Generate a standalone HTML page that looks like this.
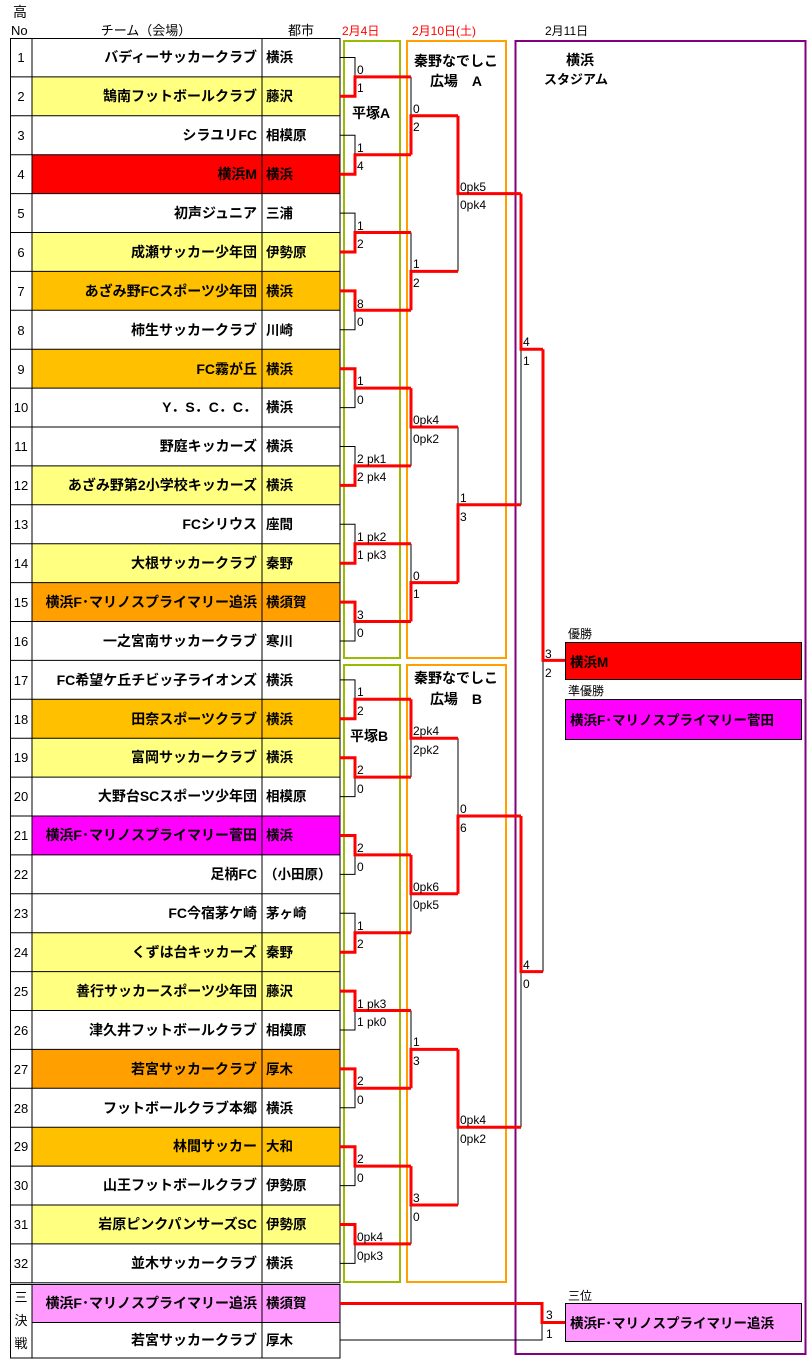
<!DOCTYPE html>
<html><head><meta charset="utf-8"><style>
html,body{margin:0;padding:0;background:#fff;width:810px;height:1366px;overflow:hidden}
svg{display:block;font-family:"Liberation Sans","Noto Sans CJK JP",sans-serif}
.t{font-size:14px;font-weight:bold;text-anchor:end}
.c{font-size:13.5px;font-weight:bold}
.n{font-size:13px;text-anchor:middle}
.s{font-size:12px}
.r{stroke:#f00;stroke-width:3;fill:none}
.b{stroke:#000;stroke-width:1;fill:none}
</style></head><body>
<svg width="810" height="1366" viewBox="0 0 810 1366">
<g>
<rect x="32" y="76.9" width="308" height="38.9" fill="#ffff80"/>
<rect x="32" y="154.7" width="308" height="38.9" fill="#ff0000"/>
<rect x="32" y="232.5" width="308" height="38.9" fill="#ffff80"/>
<rect x="32" y="271.4" width="308" height="38.9" fill="#ffc000"/>
<rect x="32" y="349.2" width="308" height="38.9" fill="#ffc000"/>
<rect x="32" y="465.9" width="308" height="38.9" fill="#ffff80"/>
<rect x="32" y="543.7" width="308" height="38.9" fill="#ffff80"/>
<rect x="32" y="582.6" width="308" height="38.9" fill="#ffa000"/>
<rect x="32" y="699.3" width="308" height="38.9" fill="#ffc000"/>
<rect x="32" y="738.2" width="308" height="38.9" fill="#ffff80"/>
<rect x="32" y="816" width="308" height="38.9" fill="#ff00ff"/>
<rect x="32" y="932.7" width="308" height="38.9" fill="#ffff80"/>
<rect x="32" y="971.6" width="308" height="38.9" fill="#ffff80"/>
<rect x="32" y="1049.4" width="308" height="38.9" fill="#ffa000"/>
<rect x="32" y="1127.2" width="308" height="38.9" fill="#ffc000"/>
<rect x="32" y="1205" width="308" height="38.9" fill="#ffff80"/>
<rect x="32" y="1284.5" width="308" height="38" fill="#ff99ff"/>
</g>
<g stroke="#000" stroke-width="1" fill="none">
<rect x="10.5" y="38.5" width="329.5" height="1244.3"/>
<line x1="32" y1="38" x2="32" y2="1283"/>
<line x1="262" y1="38" x2="262" y2="1283"/>
<path d="M10 76.9H340M10 115.8H340M10 154.7H340M10 193.6H340M10 232.5H340M10 271.4H340M10 310.3H340M10 349.2H340M10 388.1H340M10 427H340M10 465.9H340M10 504.8H340M10 543.7H340M10 582.6H340M10 621.5H340M10 660.4H340M10 699.3H340M10 738.2H340M10 777.1H340M10 816H340M10 854.9H340M10 893.8H340M10 932.7H340M10 971.6H340M10 1010.5H340M10 1049.4H340M10 1088.3H340M10 1127.2H340M10 1166.1H340M10 1205H340M10 1243.9H340"/>
<rect x="10.5" y="1284.5" width="329.5" height="73.5"/>
<line x1="32" y1="1284.5" x2="32" y2="1358"/>
<line x1="262" y1="1284.5" x2="262" y2="1358"/>
<line x1="32" y1="1322.5" x2="340" y2="1322.5"/>
</g>
<text x="13" y="17" font-size="14">高</text>
<text x="11" y="35" font-size="13">No</text>
<text x="146" y="35" font-size="13" text-anchor="middle">チーム（会場）</text>
<text x="301" y="35" font-size="13" text-anchor="middle">都市</text>
<text x="342" y="35" font-size="12" fill="#f00">2月4日</text>
<text x="412" y="35" font-size="12" fill="#f00">2月10日(土)</text>
<text x="545" y="35" font-size="12">2月11日</text>
<g class="n">
<text x="21" y="62">1</text><text x="21" y="101">2</text><text x="21" y="140">3</text><text x="21" y="179">4</text>
<text x="21" y="218">5</text><text x="21" y="257">6</text><text x="21" y="296">7</text><text x="21" y="335">8</text>
<text x="21" y="374">9</text><text x="21" y="412">10</text><text x="21" y="451">11</text><text x="21" y="490">12</text>
<text x="21" y="529">13</text><text x="21" y="568">14</text><text x="21" y="607">15</text><text x="21" y="646">16</text>
<text x="21" y="685">17</text><text x="21" y="724">18</text><text x="21" y="762">19</text><text x="21" y="801">20</text>
<text x="21" y="840">21</text><text x="21" y="879">22</text><text x="21" y="918">23</text><text x="21" y="957">24</text>
<text x="21" y="996">25</text><text x="21" y="1035">26</text><text x="21" y="1074">27</text><text x="21" y="1113">28</text>
<text x="21" y="1151">29</text><text x="21" y="1190">30</text><text x="21" y="1229">31</text><text x="21" y="1268">32</text>
<text x="21" y="1302">三</text><text x="21" y="1325">決</text><text x="21" y="1348">戦</text>
</g>
<g class="t">
<text x="257" y="62">バディーサッカークラブ</text>
<text x="257" y="101">鵠南フットボールクラブ</text>
<text x="257" y="140">シラユリFC</text>
<text x="257" y="179">横浜M</text>
<text x="257" y="218">初声ジュニア</text>
<text x="257" y="257">成瀬サッカー少年団</text>
<text x="257" y="296">あざみ野FCスポーツ少年団</text>
<text x="257" y="335">柿生サッカークラブ</text>
<text x="257" y="374">FC霧が丘</text>
<text x="257" y="412">Y．S．C．C．</text>
<text x="257" y="451">野庭キッカーズ</text>
<text x="257" y="490">あざみ野第2小学校キッカーズ</text>
<text x="257" y="529">FCシリウス</text>
<text x="257" y="568">大根サッカークラブ</text>
<text x="257" y="607">横浜F･マリノスプライマリー追浜</text>
<text x="257" y="646">一之宮南サッカークラブ</text>
<text x="257" y="685">FC希望ケ丘チビッ子ライオンズ</text>
<text x="257" y="724">田奈スポーツクラブ</text>
<text x="257" y="762">富岡サッカークラブ</text>
<text x="257" y="801">大野台SCスポーツ少年団</text>
<text x="257" y="840">横浜F･マリノスプライマリー菅田</text>
<text x="257" y="879">足柄FC</text>
<text x="257" y="918">FC今宿茅ケ崎</text>
<text x="257" y="957">くずは台キッカーズ</text>
<text x="257" y="996">善行サッカースポーツ少年団</text>
<text x="257" y="1035">津久井フットボールクラブ</text>
<text x="257" y="1074">若宮サッカークラブ</text>
<text x="257" y="1113">フットボールクラブ本郷</text>
<text x="257" y="1151">林間サッカー</text>
<text x="257" y="1190">山王フットボールクラブ</text>
<text x="257" y="1229">岩原ピンクパンサーズSC</text>
<text x="257" y="1268">並木サッカークラブ</text>
<text x="257" y="1308">横浜F･マリノスプライマリー追浜</text>
<text x="257" y="1345">若宮サッカークラブ</text>
</g>
<g class="c">
<text x="266" y="62">横浜</text><text x="266" y="101">藤沢</text><text x="266" y="140">相模原</text><text x="266" y="179">横浜</text>
<text x="266" y="218">三浦</text><text x="266" y="257">伊勢原</text><text x="266" y="296">横浜</text><text x="266" y="335">川崎</text>
<text x="266" y="374">横浜</text><text x="266" y="412">横浜</text><text x="266" y="451">横浜</text><text x="266" y="490">横浜</text>
<text x="266" y="529">座間</text><text x="266" y="568">秦野</text><text x="266" y="607">横須賀</text><text x="266" y="646">寒川</text>
<text x="266" y="685">横浜</text><text x="266" y="724">横浜</text><text x="266" y="762">横浜</text><text x="266" y="801">相模原</text>
<text x="266" y="840">横浜</text><text x="264" y="879">（小田原）</text><text x="266" y="918">茅ヶ崎</text><text x="266" y="957">秦野</text>
<text x="266" y="996">藤沢</text><text x="266" y="1035">相模原</text><text x="266" y="1074">厚木</text><text x="266" y="1113">横浜</text>
<text x="266" y="1151">大和</text><text x="266" y="1190">伊勢原</text><text x="266" y="1229">伊勢原</text><text x="266" y="1268">横浜</text>
<text x="266" y="1308">横須賀</text><text x="266" y="1345">厚木</text>
</g>
<g fill="none" stroke-width="2">
<rect x="344" y="41" width="56" height="617" stroke="#99bb00"/>
<rect x="344" y="665" width="56" height="617" stroke="#99bb00"/>
<rect x="407" y="41" width="99" height="617" stroke="#ffa000"/>
<rect x="407" y="665" width="99" height="617" stroke="#ffa000"/>
<rect x="515.5" y="41" width="290" height="1313" stroke="#800080"/>
</g>
<g font-weight="bold" font-size="14">
<text x="352" y="118">平塚A</text>
<text x="350" y="741">平塚B</text>
<text x="456" y="66" text-anchor="middle">秦野なでしこ</text>
<text x="456" y="86" text-anchor="middle">広場　A</text>
<text x="456" y="683" text-anchor="middle">秦野なでしこ</text>
<text x="456" y="704" text-anchor="middle">広場　B</text>
<text x="580" y="65" text-anchor="middle">横浜</text>
<text x="576" y="84" text-anchor="middle" font-size="13">スタジアム</text>
</g>
<path class="b" d="
M340 57.5H355V76.9 M340 135.2H355V154.7 M340 213.1H355V232.5 M340 329.8H355V310.3
M340 407.6H355V388.1 M340 446.5H355V465.9 M340 524.3H355V543.7 M340 641H355V621.5
M340 679.9H355V699.3 M340 796.6H355V777.1 M340 874.4H355V854.9 M340 913.3H355V932.7
M340 1030H355V1010.5 M340 1107.8H355V1088.3 M340 1185.6H355V1166.1 M340 1263.4H355V1243.9
M411 76.9V115.8 M411 232.5V271.4 M411 465.9V427 M411 543.7V582.6
M411 777.1V738.2 M411 932.7V893.8 M411 1010.5V1049.4 M411 1243.9V1205
M458 271.4V193.6 M458 427V504.8 M458 738.2V816 M458 1205V1127.2
M521 504.8V349.2 M521 1127.2V971.6 M543 971.6V660.4
M340 1340H542V1322.5"/>
<path class="r" d="
M340 96.3H355V76.9H411 M340 174.2H355V154.7H411 M340 252H355V232.5H411 M340 290.9H355V310.3H411
M340 368.7H355V388.1H411 M340 485.4H355V465.9H411 M340 563.2H355V543.7H411 M340 602.1H355V621.5H411
M340 718.8H355V699.3H411 M340 757.7H355V777.1H411 M340 835.5H355V854.9H411 M340 952.2H355V932.7H411
M340 991.1H355V1010.5H411 M340 1068.9H355V1088.3H411 M340 1146.7H355V1166.1H411 M340 1224.5H355V1243.9H411
M411 154.7V115.8H458 M411 310.3V271.4H458 M411 388.1V427H458 M411 621.5V582.6H458
M411 699.3V738.2H458 M411 854.9V893.8H458 M411 1088.3V1049.4H458 M411 1166.1V1205H458
M458 115.8V193.6H521 M458 582.6V504.8H521 M458 893.8V816H521 M458 1049.4V1127.2H521
M521 193.6V349.2H543 M521 816V971.6H543 M543 349.2V660.4H565
M340 1303.5H542V1322.5H565"/>
<g class="s">
<text x="357" y="74">0</text><text x="357" y="92">1</text>
<text x="357" y="152">1</text><text x="357" y="170">4</text>
<text x="357" y="230">1</text><text x="357" y="248">2</text>
<text x="357" y="308">8</text><text x="357" y="326">0</text>
<text x="357" y="385">1</text><text x="357" y="404">0</text>
<text x="357" y="463">2 pk1</text><text x="357" y="481">2 pk4</text>
<text x="357" y="541">1 pk2</text><text x="357" y="559">1 pk3</text>
<text x="357" y="619">3</text><text x="357" y="637">0</text>
<text x="357" y="696">1</text><text x="357" y="715">2</text>
<text x="357" y="774">2</text><text x="357" y="793">0</text>
<text x="357" y="852">2</text><text x="357" y="871">0</text>
<text x="357" y="930">1</text><text x="357" y="948">2</text>
<text x="357" y="1008">1 pk3</text><text x="357" y="1026">1 pk0</text>
<text x="357" y="1085">2</text><text x="357" y="1104">0</text>
<text x="357" y="1163">2</text><text x="357" y="1182">0</text>
<text x="357" y="1241">0pk4</text><text x="357" y="1260">0pk3</text>
<text x="413" y="113">0</text><text x="413" y="131">2</text>
<text x="413" y="268">1</text><text x="413" y="287">2</text>
<text x="413" y="424">0pk4</text><text x="413" y="443">0pk2</text>
<text x="413" y="580">0</text><text x="413" y="598">1</text>
<text x="413" y="735">2pk4</text><text x="413" y="754">2pk2</text>
<text x="413" y="891">0pk6</text><text x="413" y="909">0pk5</text>
<text x="413" y="1046">1</text><text x="413" y="1065">3</text>
<text x="413" y="1202">3</text><text x="413" y="1221">0</text>
<text x="460" y="191">0pk5</text><text x="460" y="209">0pk4</text>
<text x="460" y="502">1</text><text x="460" y="521">3</text>
<text x="460" y="813">0</text><text x="460" y="832">6</text>
<text x="460" y="1124">0pk4</text><text x="460" y="1143">0pk2</text>
<text x="523" y="346">4</text><text x="523" y="365">1</text>
<text x="523" y="969">4</text><text x="523" y="988">0</text>
<text x="545" y="658">3</text><text x="545" y="677">2</text>
<text x="546" y="1319">3</text><text x="546" y="1338">1</text>
</g>
<text x="568" y="638" font-size="12">優勝</text>
<rect x="565.5" y="642.5" width="236" height="37" fill="#f00" stroke="#000"/>
<text x="570" y="667" class="c">横浜M</text>
<text x="568" y="695" font-size="12">準優勝</text>
<rect x="565.5" y="699.5" width="236" height="40" fill="#ff00ff" stroke="#000"/>
<text x="570" y="725" class="c">横浜F･マリノスプライマリー菅田</text>
<text x="568" y="1300" font-size="12">三位</text>
<rect x="565.5" y="1303.5" width="236" height="38" fill="#ff99ff" stroke="#000"/>
<text x="570" y="1328" class="c">横浜F･マリノスプライマリー追浜</text>
</svg>
</body></html>
